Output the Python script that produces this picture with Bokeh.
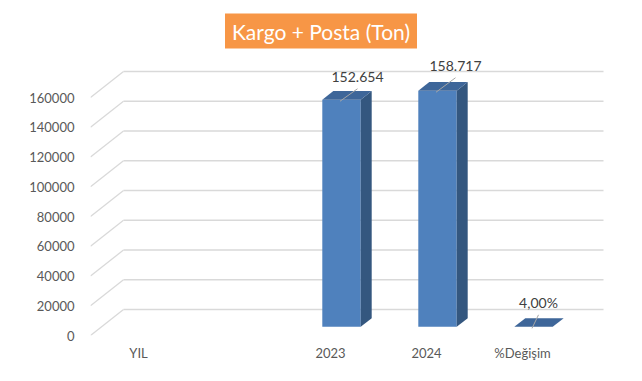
from bokeh.plotting import figure
from bokeh.models import FixedTicker, Label, Range1d, NumeralTickFormatter
from bokeh.core.properties import value
from bokeh.embed import file_html
from bokeh.resources import INLINE

# ---------------- data ----------------
categories = ["YIL", "", "2023", "2024", "%Değişim"]
values = [None, None, 152654, 158717, 4]
value_labels = ["", "", "152.654", "158.717", "4,00%"]
y_ticks = [0, 20000, 40000, 60000, 80000, 100000, 120000, 140000, 160000]
title_text = "Kargo + Posta (Ton)"

# ---------------- layout ----------------
W, H = 634, 373
B_LEFT, B_BOTTOM = 90, 38
frame_w = W - B_LEFT
frame_h = H - B_BOTTOM
PX_X = 96.0            # pixels per category
PX_Y = 1.4875 / 1000   # pixels per value unit
X0 = -0.5
X1 = X0 + frame_w / PX_X
Y1 = frame_h / PX_Y
DX = 33 / PX_X         # 3D depth offset (x)
DY = 26 / PX_Y         # 3D depth offset (y)
BW = 0.4               # bar width
d, e = DX / 3, DY / 3  # bar placed in middle third of depth

# label offsets in pixels (right, down) relative to bar front-top centre
lab_off = {2: (16, -23), 3: (18, -25), 4: (5, -24)}

FONT = "Lato"
FRONT, TOP, SIDE = "#4F81BD", "#3E6699", "#34577F"
GRID = "#D9D9D9"

p = figure(width=W, height=H, output_backend="svg", toolbar_location=None,
           x_range=Range1d(X0, X1), y_range=Range1d(0, Y1),
           min_border_left=B_LEFT, min_border_right=0, min_border_top=0,
           min_border_bottom=B_BOTTOM)
p.outline_line_color = None
p.xgrid.visible = False
p.ygrid.visible = False
p.background_fill_color = "white"
p.border_fill_color = "white"

# 3D gridlines: side wall diagonal + back wall horizontal
n = len(categories)
gx0, gy0, gx1, gy1 = [], [], [], []
for v in y_ticks:
    gx0 += [X0, X0 + DX]
    gy0 += [v, v + DY]
    gx1 += [X0 + DX, n - 0.5 + DX]
    gy1 += [v + DY, v + DY]
p.segment(gx0, gy0, gx1, gy1, line_color=GRID, line_width=1.3)

# 3D bars
fl, fr, fb, ft = [], [], [], []
txs, tys, sxs, sys_ = [], [], [], []
for i, v in enumerate(values):
    if v is None:
        continue
    l, r = i - BW / 2 + d, i + BW / 2 + d
    fl.append(l); fr.append(r); fb.append(e); ft.append(v + e)
    sxs.append([r, r, r + d, r + d]); sys_.append([e, v + e, v + 2 * e, 2 * e])
    txs.append([l, r, r + d, l + d]); tys.append([v + e, v + e, v + 2 * e, v + 2 * e])
p.quad(left=fl, right=fr, bottom=fb, top=ft, fill_color=FRONT, line_color=None)
p.patches(sxs, sys_, fill_color=SIDE, line_color=None)
p.patches(txs, tys, fill_color=TOP, line_color=None)

# data labels with leader lines
lx, ly, lt = [], [], []
sx0, sy0, sx1, sy1 = [], [], [], []
for i, v in enumerate(values):
    if v is None:
        continue
    ax, ay = i + d, v + e
    ox, oy = lab_off[i]
    cx, cy = ax + ox / PX_X, ay - oy / PX_Y
    lx.append(cx); ly.append(cy); lt.append(value_labels[i])
    sx0.append(ax - 1.5 / PX_X); sy0.append(ay - 1.5 / PX_Y)
    sx1.append(cx); sy1.append(cy - 12 / PX_Y)
p.segment(sx0, sy0, sx1, sy1, line_color="#A6A6A6", line_width=1)
p.text(lx, ly, text=lt, text_align="center", text_baseline="middle",
       text_font=value(FONT), text_font_size="14px", text_color="#404040")

# axes
p.xaxis.ticker = FixedTicker(ticks=list(range(n)))
p.xaxis.major_label_overrides = {i: c for i, c in enumerate(categories)}
p.yaxis.ticker = FixedTicker(ticks=y_ticks)
p.yaxis.formatter = NumeralTickFormatter(format="0")
for ax in (p.xaxis, p.yaxis):
    ax.axis_line_color = None
    ax.major_tick_line_color = None
    ax.minor_tick_line_color = None
    ax.major_label_text_font = FONT
    ax.major_label_text_font_size = "13px"
    ax.major_label_text_color = "#595959"
p.yaxis.major_label_standoff = 10
p.xaxis.major_label_standoff = 3

# title box
tx = X0 + (320.5 - B_LEFT) / PX_X
ty = (frame_h - 30.5) / PX_Y
p.add_layout(Label(x=tx, y=ty, text=title_text, text_align="center",
                   text_baseline="middle", text_font=FONT, text_font_size="21px",
                   text_color="white", background_fill_color="#F79646",
                   padding=dict(left=7, right=7, top=5, bottom=5)))

open("out.html", "w").write(file_html(p, INLINE))
